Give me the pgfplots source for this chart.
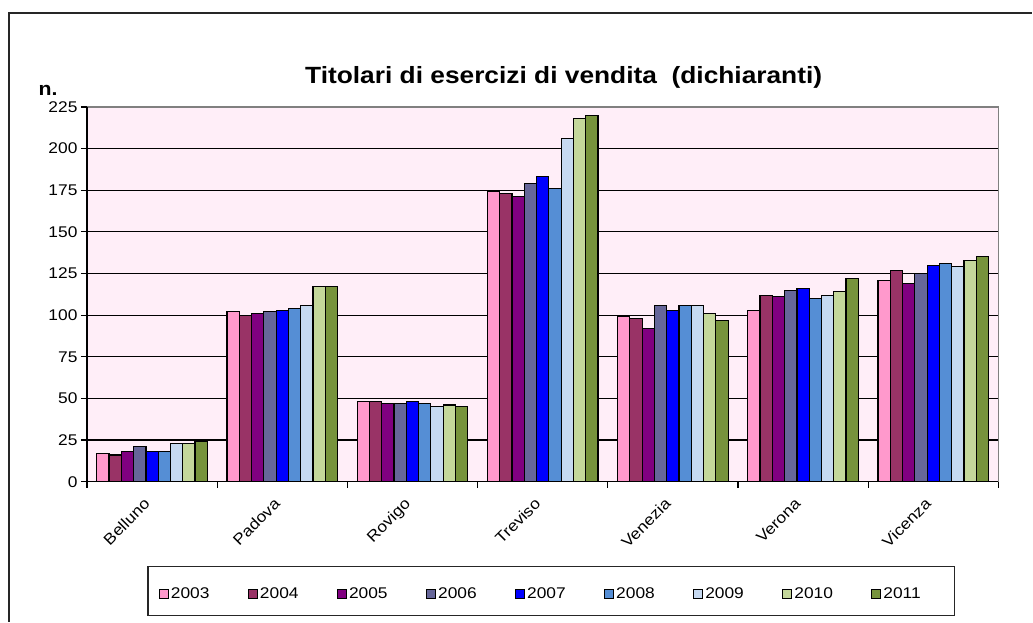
\documentclass[border=0pt]{standalone}
\usepackage{fontspec}
\setmainfont[FakeStretch=1.12]{Liberation Sans}
\usepackage{pgfplots}
\usepackage{pgfplotstable}
\pgfplotsset{compat=1.18}
\definecolor{c03}{HTML}{FF99CC}
\definecolor{c04}{HTML}{993366}
\definecolor{c05}{HTML}{800080}
\definecolor{c06}{HTML}{666699}
\definecolor{c07}{HTML}{0000FF}
\definecolor{c08}{HTML}{558ED5}
\definecolor{c09}{HTML}{C6D9F1}
\definecolor{c10}{HTML}{C4D79B}
\definecolor{c11}{HTML}{77933C}
\definecolor{bgpink}{RGB}{255,238,248}
\pgfplotstableread{
x y03 y04 y05 y06 y07 y08 y09 y10 y11
0 17 16 18 21 18 18 23 23 24
1 102 100 101 102 103 104 106 117 117
2 48 48 47 47 48 47 45 46 45
3 174 173 171 179 183 176 206 218 220
4 99 98 92 106 103 106 106 101 97
5 103 112 111 115 116 110 112 114 122
6 121 127 119 125 130 131 129 133 135
}\datatab
\newcommand{\tfont}{\fontsize{15.5}{18}\selectfont}
\begin{document}
\begin{tikzpicture}[x=1pt,y=1pt]
\path (0,0) rectangle (1033,622);
\draw[line width=1.3pt, black!85] (9,0) -- (9,609) -- (1033,609);
\node[font=\bfseries\fontsize{23.5}{27}\selectfont] at (564,545) {Titolari di esercizi di vendita\ \ (dichiaranti)};
\node[font=\bfseries\fontsize{19}{22}\selectfont] at (48,532) {n.};
\begin{axis}[
  set layers=standard,
  at={(87pt,140pt)}, anchor=south west,
  scale only axis, width=912pt, height=375pt,
  xmin=-0.5, xmax=6.5, ymin=0, ymax=225,
  ytick={0,25,...,225},
  xtick={0,...,6},
  xticklabels={Belluno,Padova,Rovigo,Treviso,Venezia,Verona,Vicenza},
  minor xtick={-0.5,0.5,...,6.5},
  major x tick style={draw=none},
  tick align=outside, tick pos=left,
  major tick length=6pt, minor tick length=6pt,
  every tick/.style={black, line width=1.2pt},
  minor tick style={black, line width=1.2pt},
  ymajorgrids, major grid style={black, line width=1.2pt},
  axis line style={draw=none},
  axis background/.style={fill=bgpink},
  /pgf/number format/assume math mode=true,
  tick label style={font=\tfont},
  xticklabel style={rotate=45, anchor=north east, inner sep=1pt, xshift=-12pt, yshift=1pt},
  ybar=0pt, bar width=12.3pt,
  every axis plot/.append style={draw=black, line width=1.2pt},
  legend columns=9,
  legend style={at={(0.498,-0.299)}, anchor=center, draw=none, fill=none,
    font=\tfont, inner sep=0pt,
    /tikz/every even column/.append style={column sep=36.5pt}},
  legend image code/.code={\draw[#1, line width=1pt] (0pt,-4.5pt) rectangle (9pt,4.5pt);},
  clip=false,
]
\addplot[fill=c03] table[x=x,y=y03]{\datatab};
\addplot[fill=c04] table[x=x,y=y04]{\datatab};
\addplot[fill=c05] table[x=x,y=y05]{\datatab};
\addplot[fill=c06] table[x=x,y=y06]{\datatab};
\addplot[fill=c07] table[x=x,y=y07]{\datatab};
\addplot[fill=c08] table[x=x,y=y08]{\datatab};
\addplot[fill=c09] table[x=x,y=y09]{\datatab};
\addplot[fill=c10] table[x=x,y=y10]{\datatab};
\addplot[fill=c11] table[x=x,y=y11]{\datatab};
\legend{2003,2004,2005,2006,2007,2008,2009,2010,2011}
\draw[gray, line width=1.5pt] (rel axis cs:0,1) -- (rel axis cs:1,1) -- (rel axis cs:1,0);
\draw[black, line width=1.3pt] (rel axis cs:0,1) -- (rel axis cs:0,0) -- (rel axis cs:1,0);
\end{axis}
\draw[line width=1.3pt, black!85] (148,6) rectangle (955,55);
\end{tikzpicture}
\end{document}
